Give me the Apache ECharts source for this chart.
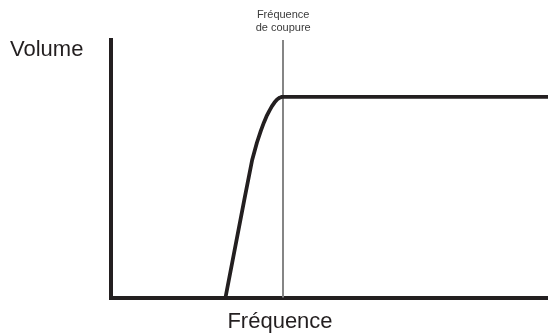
<!DOCTYPE html>
<html>
<head>
<meta charset="utf-8">
<script src="https://cdn.jsdelivr.net/npm/echarts@6/dist/echarts.min.js"></script>
<style>
  html, body { margin: 0; padding: 0; background: #fff; }
  #chart { width: 548px; height: 334px; }
</style>
</head>
<body>
<div id="chart"></div>
<script>
// High-pass response: volume vs. frequency (arbitrary units 0–100)
const frequency = [26.2, 30.5, 32.3, 33.4, 34.3, 35.0, 35.6, 36.2, 36.8, 37.4, 38.0, 38.6, 39.1, 100];
const volume    = [0,    37.9, 53.4, 60.2, 64.8, 68.0, 70.4, 72.4, 74.2, 75.7, 76.9, 77.6, 77.9, 77.9];
const cutoffFrequency = 39.4;
const cutoffLabel = 'Fréquence\nde coupure';
const xTitle = 'Fréquence';
const yTitle = 'Volume';

const ink = '#231f20';
const font = '"Liberation Sans", Arial, Helvetica, sans-serif';

const chart = echarts.init(document.getElementById('chart'), null, { renderer: 'canvas' });

chart.setOption({
  animation: false,
  backgroundColor: '#ffffff',
  grid: { left: 111, right: 0, top: 40, bottom: 36.5, containLabel: false },
  xAxis: {
    type: 'value', min: 0, max: 100,
    axisLine: { show: true, lineStyle: { color: ink, width: 4, cap: 'square' } },
    axisTick: { show: false }, axisLabel: { show: false }, splitLine: { show: false }
  },
  yAxis: {
    type: 'value', min: 0, max: 100,
    axisLine: { show: true, lineStyle: { color: ink, width: 4, cap: 'square' } },
    axisTick: { show: false }, axisLabel: { show: false }, splitLine: { show: false }
  },
  series: [{
    type: 'line',
    data: frequency.map((f, i) => [f, volume[i]]),
    showSymbol: false,
    smooth: false,
    lineStyle: { color: ink, width: 3.8, join: 'round', cap: 'round' },
    z: 3,
    markLine: {
      silent: true,
      symbol: 'none',
      lineStyle: { color: '#858585', width: 2, type: 'solid' },
      label: {
        show: true,
        position: 'end',
        distance: 6,
        formatter: cutoffLabel,
        fontFamily: font,
        fontSize: 11,
        lineHeight: 12.5,
        color: '#3a3a3a',
        align: 'center'
      },
      data: [[{ coord: [cutoffFrequency, 0] }, { coord: [cutoffFrequency, 100] }]],
      z: 2
    }
  }],
  graphic: [
    {
      type: 'text',
      style: { text: yTitle, x: 10, y: 50.4, font: '22px ' + font, fill: ink, textVerticalAlign: 'middle' }
    },
    {
      type: 'text',
      style: { text: xTitle, x: 280, y: 322.4, font: '22px ' + font, fill: ink, textAlign: 'center', textVerticalAlign: 'middle' }
    }
  ]
});
</script>
</body>
</html>
